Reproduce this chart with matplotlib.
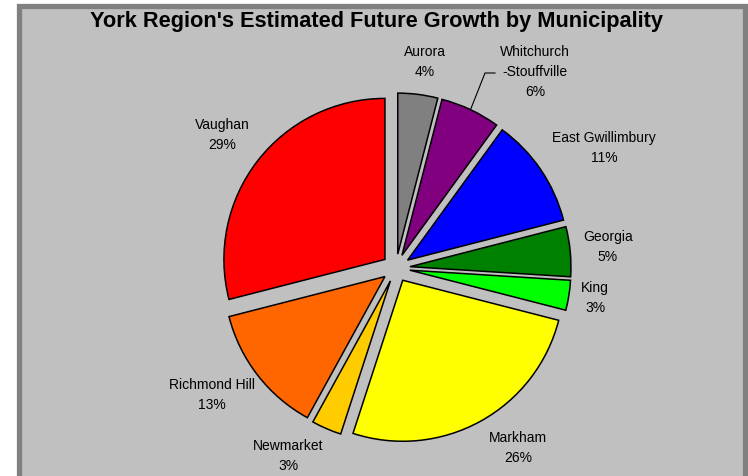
import matplotlib.pyplot as plt
import numpy as np
from matplotlib.patches import Rectangle

plt.rcParams['font.family'] = ['Liberation Sans', 'DejaVu Sans']

W, H = 748, 476

names = ["Aurora", "Whitchurch\n-Stouffville", "East Gwillimbury", "Georgia", "King",
         "Markham", "Newmarket", "Richmond Hill", "Vaughan"]
shares = [4, 6, 11, 5, 3, 26, 3, 13, 29]
colors = ["#808080", "#800080", "#0000FF", "#008000", "#00FF00",
          "#FFFF00", "#FFCC00", "#FF6600", "#FF0000"]
# label centres in pixel coordinates (x, y from top)
label_pos = [(425, 62), (535, 72), (604, 148), (608, 247), (595, 298),
             (518, 448), (288, 456), (212, 395), (222, 135)]

cx, cy, r, expl = 396, 268, 161, 14

fig = plt.figure(figsize=(W / 100, H / 100), dpi=100)
ax = fig.add_axes([0, 0, 1, 1])

# chart frame
ax.add_patch(Rectangle((19.5, -10), 726, H - 5.5 + 10, facecolor='#C0C0C0',
                       edgecolor='#808080', linewidth=3.8, zorder=0))

wedges, _ = ax.pie(shares, colors=colors, startangle=90, counterclock=False,
                   explode=[expl] * len(shares), radius=r, center=(cx, H - cy),
                   wedgeprops=dict(edgecolor='black', linewidth=1.1), frame=True)
ax.set_xlim(0, W)
ax.set_ylim(0, H)
ax.axis('off')

for name, share, (lx, ly) in zip(names, shares, label_pos):
    ax.text(lx, H - ly, f"{name}\n{share}%", ha='center', va='center',
            fontsize=10, linespacing=1.55, color='black')

# leader line for Whitchurch-Stouffville
w = wedges[1]
tm = np.deg2rad((w.theta1 + w.theta2) / 2)
px = w.center[0] + r * np.cos(tm)
py = w.center[1] + r * np.sin(tm)
ax.plot([px, 485, 495], [py, H - 73, H - 73], color='black', linewidth=0.8)

ax.text(377, H - 21, "York Region's Estimated Future Growth by Municipality",
        ha='center', va='center', fontsize=15.7, fontweight='bold')

fig.savefig('out.png', dpi=100)
